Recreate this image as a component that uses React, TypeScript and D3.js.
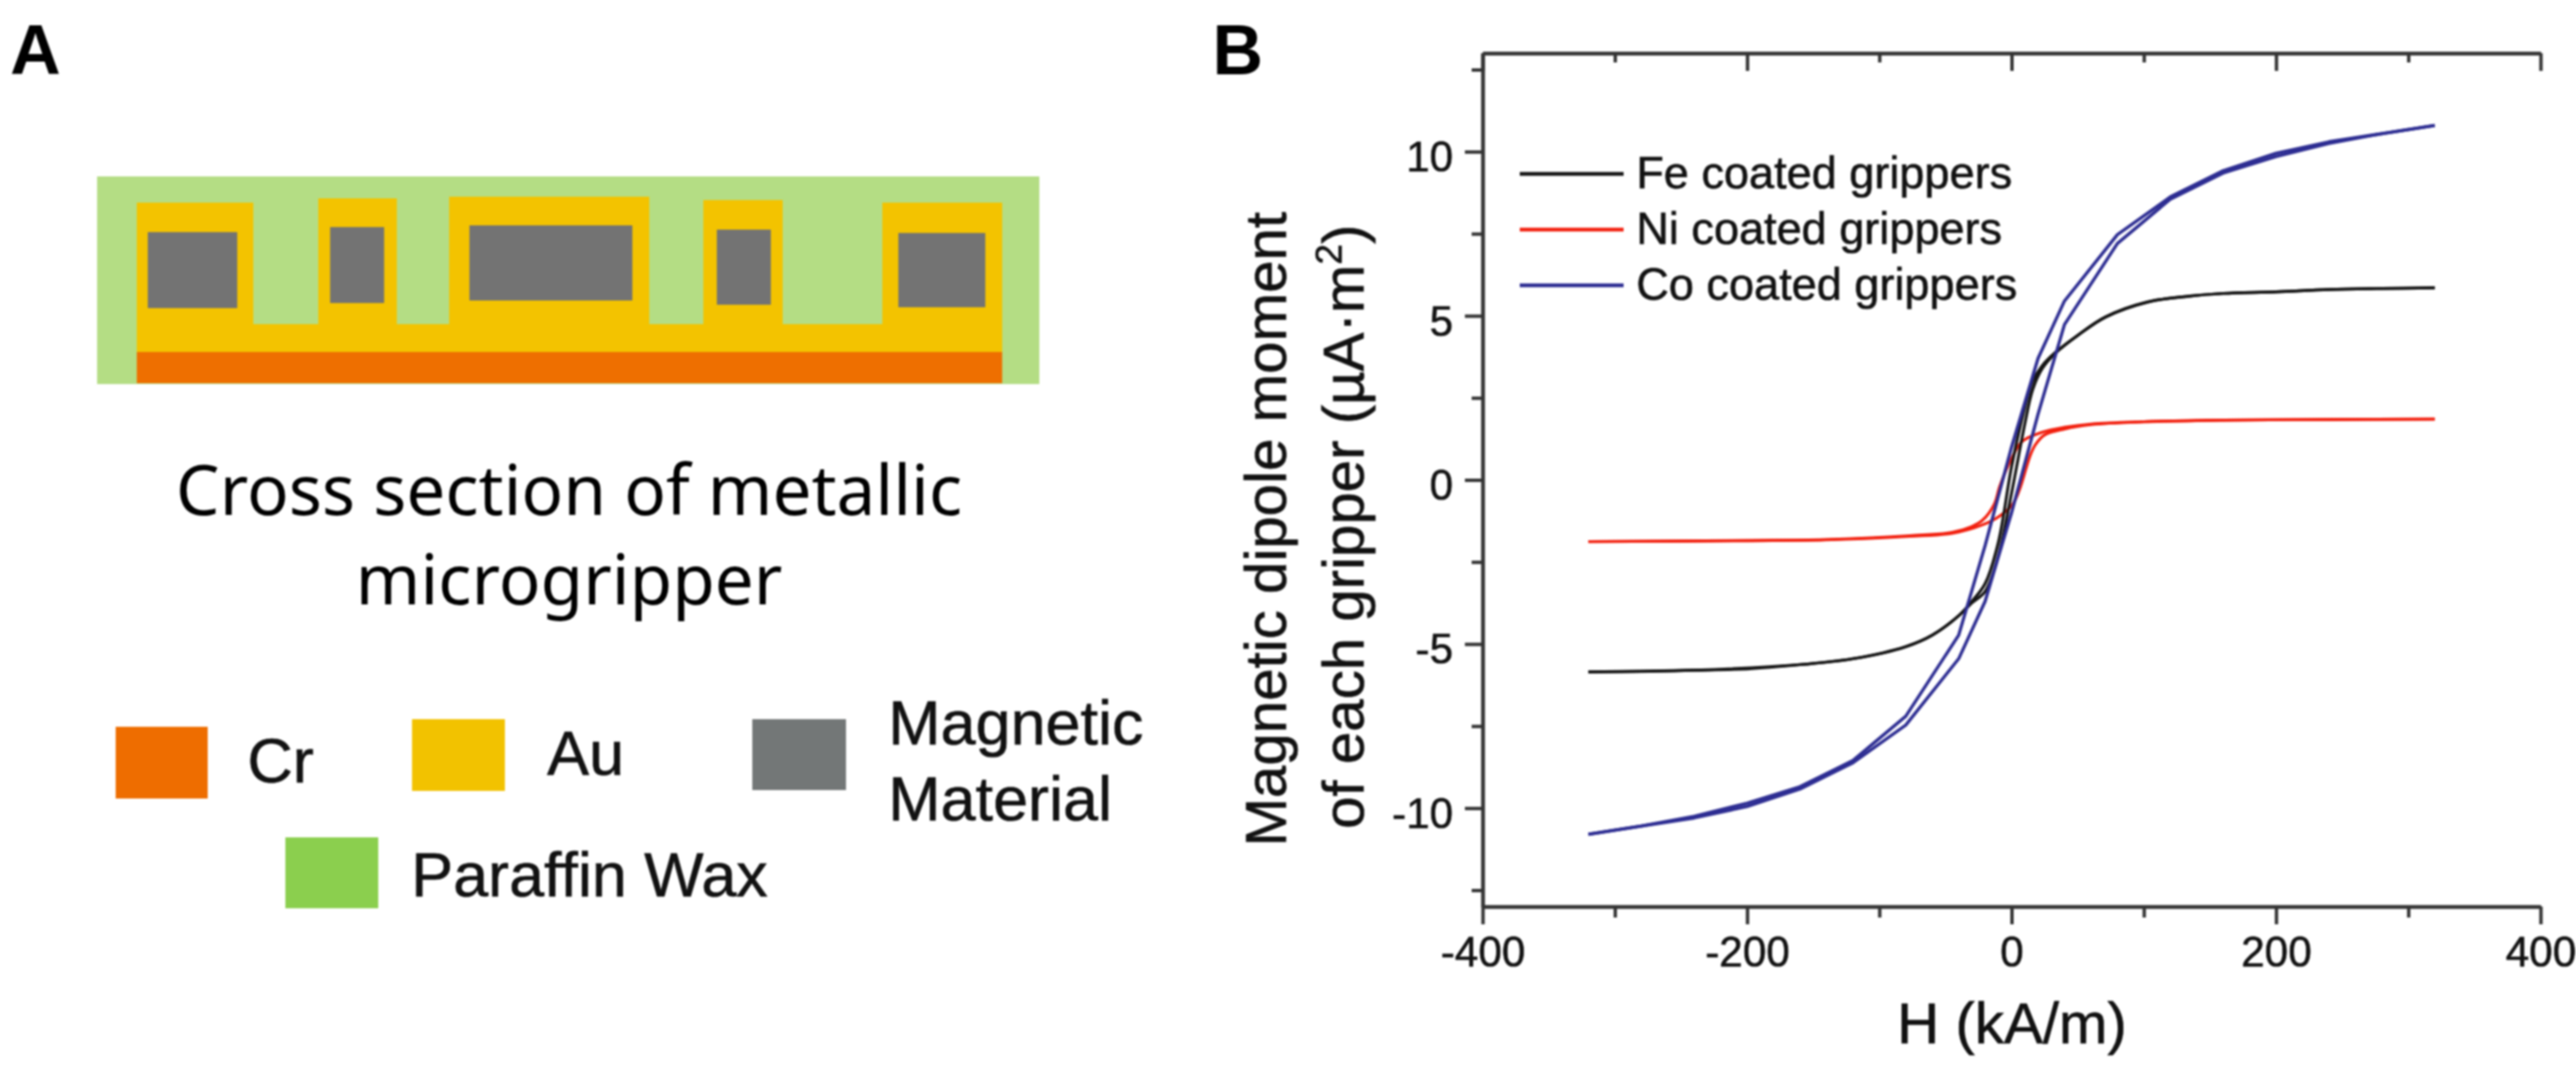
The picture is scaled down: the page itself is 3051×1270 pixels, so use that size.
import React, { useEffect, useRef } from "react";
import * as d3 from "d3";

// ---- Panel B data (H in kA/m, moment in µA·m²) ----
const coDownH = [320, 280, 240, 200, 160, 120, 80, 40, 20, 0, -20, -40, -80, -120, -160, -200, -240, -280, -320];
const coDownM = [10.8, 10.55, 10.3, 9.95, 9.42, 8.62, 7.47, 5.45, 3.7, 1.0, -2.0, -4.73, -7.2, -8.55, -9.35, -9.85, -10.25, -10.55, -10.8];
const coUpH = [-320, -280, -240, -200, -160, -120, -80, -40, -20, 0, 20, 40, 80, 120, 160, 200, 240, 280, 320];
const coUpM = [-10.8, -10.55, -10.3, -9.95, -9.42, -8.62, -7.47, -5.45, -3.7, -1.0, 2.0, 4.73, 7.2, 8.55, 9.35, 9.85, 10.25, 10.55, 10.8];

const feDownH = [320, 280, 240, 200, 160, 135, 103, 71, 50, 33, 23, 16, 10, 0, -10, -20, -30, -40, -60, -80, -120, -160, -200, -240, -280, -320];
const feDownM = [5.85, 5.83, 5.8, 5.73, 5.68, 5.6, 5.42, 4.96, 4.4, 3.88, 3.47, 3.0, 2.2, 0.4, -1.9, -3.16, -3.7, -4.14, -4.73, -5.08, -5.45, -5.63, -5.76, -5.8, -5.83, -5.85];
const feUpH = [-320, -240, -160, -120, -80, -60, -40, -30, -20, -10, 0, 10, 16, 23, 33, 50, 71, 103, 135, 160, 200, 240, 280, 320];
const feUpM = [-5.85, -5.8, -5.63, -5.45, -5.08, -4.73, -4.14, -3.75, -3.4, -2.3, -0.4, 1.7, 2.75, 3.38, 3.85, 4.4, 4.96, 5.42, 5.6, 5.68, 5.73, 5.8, 5.83, 5.85];

const niDownH = [320, 240, 160, 100, 60, 40, 23, 8, 0, -9, -13, -22, -30, -45, -77, -141, -200, -260, -320];
const niDownM = [1.85, 1.84, 1.82, 1.77, 1.7, 1.6, 1.45, 1.17, 0.65, -0.2, -0.73, -1.23, -1.42, -1.6, -1.7, -1.82, -1.85, -1.87, -1.88];
const niUpH = [-320, -200, -141, -77, -45, -22, -9, 1, 6, 14, 18, 25, 40, 60, 100, 160, 240, 320];
const niUpM = [-1.88, -1.85, -1.83, -1.72, -1.63, -1.37, -1.1, -0.73, -0.3, 0.73, 1.07, 1.37, 1.55, 1.68, 1.77, 1.82, 1.84, 1.85];

const seriesNames = ["Fe coated grippers", "Ni coated grippers", "Co coated grippers"];
const seriesColors = ["#141414", "#f2200f", "#2d2d92"];

const xMajor = [-400, -200, 0, 200, 400];
const xMinor = [-300, -100, 100, 300];
const yMajor = [-10, -5, 0, 5, 10];
const yMinor = [-12.5, -7.5, -2.5, 2.5, 7.5, 12.5];

// ---- Panel A: cross-section geometry, in diagram units ----
const pillarX0 = [47, 262, 417, 718, 930];
const pillarX1 = [185, 355, 654, 812, 1072];
const pillarTop = [31, 26, 24, 28, 31];
const coreX0 = [60, 276, 441, 734, 949];
const coreX1 = [166, 340, 634, 798, 1052];
const coreTop = [66, 60, 58, 63, 67];
const coreBottom = [156, 150, 147, 152, 155];

const legendA = [
  { label: ["Cr"], color: "#ee6d00" },
  { label: ["Au"], color: "#f2c200" },
  { label: ["Magnetic", "Material"], color: "#737777" },
  { label: ["Paraffin Wax"], color: "#8bcf4e" },
];

const sans = "'Liberation Sans', Arial, sans-serif";
const inkWeight = 0.7;

function App() {
  const plotRef = useRef<SVGGElement | null>(null);

  useEffect(() => {
    const g = d3.select(plotRef.current);
    g.selectAll("*").remove();

    const x = d3.scaleLinear().domain([-400, 400]).range([1756, 3009]);
    const y = d3.scaleLinear().domain([-13, 13]).range([1074, 63]);
    const axisColor = "#333";

    const style = (s: any) => {
      s.selectAll("path").attr("stroke", axisColor).attr("stroke-width", 4);
      s.selectAll("line").attr("stroke", axisColor).attr("stroke-width", 4);
      s.selectAll("text").attr("font-family", sans).attr("fill", "#111").attr("font-size", 50)
        .attr("stroke", "#111").attr("stroke-width", inkWeight);
    };
    const plain = d3.format("d") as any; // hyphen-minus, as in the reference

    // bottom
    g.append("g").attr("transform", "translate(0,1074)")
      .call(d3.axisBottom(x).tickValues(xMajor).tickSize(21).tickSizeOuter(0).tickPadding(14).tickFormat((v: any) => String(v)))
      .call(style);
    g.append("g").attr("transform", "translate(0,1074)")
      .call(d3.axisBottom(x).tickValues(xMinor).tickSize(13).tickSizeOuter(0).tickFormat(() => ""))
      .call(style);
    // top, ticks inward
    g.append("g").attr("transform", "translate(0,63)")
      .call(d3.axisBottom(x).tickValues(xMajor).tickSize(21).tickSizeOuter(0).tickFormat(() => ""))
      .call(style);
    g.append("g").attr("transform", "translate(0,63)")
      .call(d3.axisBottom(x).tickValues(xMinor).tickSize(11).tickSizeOuter(0).tickFormat(() => ""))
      .call(style);
    // left
    g.append("g").attr("transform", "translate(1756,0)")
      .call(d3.axisLeft(y).tickValues(yMajor).tickSize(21).tickSizeOuter(0).tickPadding(14).tickFormat((v: any) => String(v)))
      .call(style)
      .selectAll("text").attr("dy", "0.46em");
    g.append("g").attr("transform", "translate(1756,0)")
      .call(d3.axisLeft(y).tickValues(yMinor).tickSize(13).tickSizeOuter(0).tickFormat(() => ""))
      .call(style);

    const loops: [number[], number[], number][] = [
      [niDownH, niDownM, 1], [niUpH, niUpM, 1],
      [feDownH, feDownM, 0], [feUpH, feUpM, 0],
      [coDownH, coDownM, 2], [coUpH, coUpM, 2],
    ];
    const line = d3.line<[number, number]>().x((d) => x(d[0])).y((d) => y(d[1]));
    const smooth = d3.line<[number, number]>().x((d) => x(d[0])).y((d) => y(d[1])).curve(d3.curveCatmullRom);
    loops.forEach(([h, m, i]) => {
      const pts = h.map((v, k) => [v, m[k]] as [number, number]);
      g.append("path")
        .attr("d", (i === 2 ? line : smooth)(pts))
        .attr("fill", "none")
        .attr("stroke", seriesColors[i])
        .attr("stroke-linejoin", "round")
        .attr("stroke-width", i === 2 ? 3.8 : 3.4);
    });

    // legend
    const legendY = [206, 272, 338];
    const legendText = [223, 289, 355];
    seriesNames.forEach((n, i) => {
      g.append("line").attr("x1", 1800).attr("x2", 1923).attr("y1", legendY[i]).attr("y2", legendY[i])
        .attr("stroke", seriesColors[i]).attr("stroke-width", 4.5);
      g.append("text").attr("x", 1938).attr("y", legendText[i]).text(n)
        .attr("font-family", sans).attr("font-size", 53.4).attr("fill", "#111")
        .attr("stroke", "#111").attr("stroke-width", inkWeight);
    });
  }, []);

  const ax = d3.scaleLinear().domain([0, 1116]).range([115, 1231]);
  const ay = d3.scaleLinear().domain([0, 246]).range([209, 455]);

  return (
    <svg width={3051} height={1270} viewBox="0 0 3051 1270"
      style={{ position: "absolute", left: 0, top: 0, display: "block", background: "#fff" }}>
      <g style={{ filter: "blur(0.8px)" }}>
        <text x={12} y={88} fontFamily={sans} fontWeight={700} fontSize={83} fill="#000">A</text>
        <text x={1436} y={88} fontFamily={sans} fontWeight={700} fontSize={83} fill="#000">B</text>

        {/* cross section */}
        <rect x={ax(0)} y={ay(0)} width={ax(1116) - ax(0)} height={ay(246) - ay(0)} fill="#b4dd84" />
        {pillarX0.map((p, i) => (
          <rect key={i} x={ax(p)} y={ay(pillarTop[i])} width={ax(pillarX1[i]) - ax(p)} height={ay(180) - ay(pillarTop[i])} fill="#f3c300" />
        ))}
        <rect x={ax(47)} y={ay(175)} width={ax(1072) - ax(47)} height={ay(208) - ay(175)} fill="#f3c300" />
        <rect x={ax(47)} y={ay(208)} width={ax(1072) - ax(47)} height={ay(245) - ay(208)} fill="#ee6f00" />
        {coreX0.map((c, i) => (
          <rect key={i} x={ax(c)} y={ay(coreTop[i])} width={ax(coreX1[i]) - ax(c)} height={ay(coreBottom[i]) - ay(coreTop[i])} fill="#737373" />
        ))}

        <g fontFamily="'Noto Sans', sans-serif" fontSize={82} fill="#000" textAnchor="middle">
          <text x={674} y={610}>Cross section of metallic</text>
          <text x={674} y={716}>microgripper</text>
        </g>

        {/* materials legend */}
        <rect x={137} y={861} width={109} height={85} fill={legendA[0].color} />
        <rect x={488} y={852} width={110} height={85} fill={legendA[1].color} />
        <rect x={891} y={852} width={111} height={84} fill={legendA[2].color} />
        <rect x={338} y={992} width={110} height={84} fill={legendA[3].color} />
        <g fontFamily={sans} fontSize={74.5} fill="#111" stroke="#111" strokeWidth={inkWeight}>
          <text x={293} y={927}>{legendA[0].label[0]}</text>
          <text x={648} y={918}>{legendA[1].label[0]}</text>
          <text x={1052} y={882}>{legendA[2].label[0]}</text>
          <text x={1052} y={972}>{legendA[2].label[1]}</text>
          <text x={487} y={1062}>{legendA[3].label[0]}</text>
        </g>

        {/* axis titles */}
        <g fontFamily={sans} fontSize={69} fill="#111" stroke="#111" strokeWidth={inkWeight} textAnchor="middle">
          <text transform="translate(1523,627) rotate(-90)">Magnetic dipole moment</text>
          <text transform="translate(1615,624) rotate(-90)">
            of each gripper (µA·m<tspan fontSize={44} dy={-26}>2</tspan><tspan dy={26}>)</tspan>
          </text>
          <text x={2383} y={1236}>H (kA/m)</text>
        </g>

        <g ref={plotRef} />
      </g>
    </svg>
  );
}

export default App;
